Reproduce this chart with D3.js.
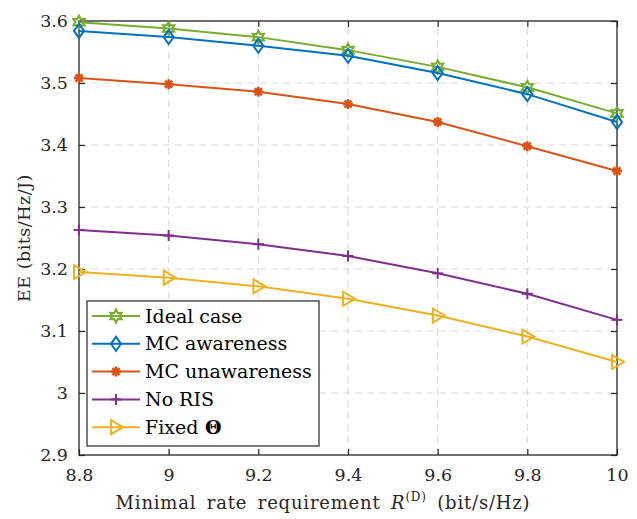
<!DOCTYPE html>
<html lang="en">
<head>
    <meta charset="UTF-8">
    <title>EE vs minimal rate requirement</title>
    <style>
        body { margin: 0; padding: 0; background: #fff; overflow: hidden; }
        svg text { font-family: 'DejaVu Serif', serif; }
    </style>
</head>
<body>
    <script src="https://d3js.org/d3.v7.min.js"></script>
    <script>
        // x values (minimal rate requirement)
        const rates = [8.8, 9, 9.2, 9.4, 9.6, 9.8, 10];

        // EE values
        const idealCase = [3.598, 3.588, 3.574, 3.553, 3.526, 3.493, 3.451];
        const mcAware = [3.584, 3.574, 3.560, 3.544, 3.516, 3.482, 3.437];
        const mcUnaware = [3.508, 3.498, 3.486, 3.466, 3.437, 3.398, 3.358];
        const noRIS = [3.263, 3.254, 3.240, 3.221, 3.193, 3.160, 3.118];
        const fixedTheta = [3.195, 3.186, 3.172, 3.152, 3.125, 3.091, 3.050];

        const xTicks = [8.8, 9, 9.2, 9.4, 9.6, 9.8, 10];
        const yTicks = [2.9, 3, 3.1, 3.2, 3.3, 3.4, 3.5, 3.6];

        const series = [
            { name: "Ideal case", values: idealCase, color: "#77AC30", marker: "hexagram" },
            { name: "MC awareness", values: mcAware, color: "#0072BD", marker: "diamond" },
            { name: "MC unawareness", values: mcUnaware, color: "#D95319", marker: "asterisk" },
            { name: "No RIS", values: noRIS, color: "#7E2F8E", marker: "plus" },
            { name: "Fixed", values: fixedTheta, color: "#EDB120", marker: "triangle" }
        ];

        const width = 637, height = 519;
        const margin = { left: 79, right: 20, top: 21, bottom: 64 };
        const serif = "DejaVu Serif";

        const svg = d3.select("body").append("svg")
            .attr("width", width)
            .attr("height", height);

        const x = d3.scaleLinear().domain([8.8, 10]).range([margin.left, width - margin.right]);
        const y = d3.scaleLinear().domain([2.9, 3.6]).range([height - margin.bottom, margin.top]);

        const axisColor = "#262626";

        // grid
        const grid = svg.append("g");
        grid.selectAll(".gx").data(xTicks.slice(1, -1)).enter().append("line")
            .attr("x1", d => x(d)).attr("x2", d => x(d))
            .attr("y1", y(2.9)).attr("y2", y(3.6))
            .attr("stroke", "#dcdcdc").attr("stroke-width", 1.2).attr("stroke-dasharray", "7,5");
        grid.selectAll(".gy").data(yTicks.slice(1, -1)).enter().append("line")
            .attr("x1", x(8.8)).attr("x2", x(10))
            .attr("y1", d => y(d)).attr("y2", d => y(d))
            .attr("stroke", "#dcdcdc").attr("stroke-width", 1.2).attr("stroke-dasharray", "7,5");

        // axes (ticks inside, mirrored on top/right)
        const tickLen = 6;
        const fmt = d => String(+d.toFixed(1));
        svg.append("g").attr("transform", `translate(0,${y(2.9)})`)
            .call(d3.axisBottom(x).tickValues(xTicks).tickSizeInner(-tickLen).tickSizeOuter(0).tickPadding(14).tickFormat(fmt))
            .call(g => g.select(".domain").remove());
        svg.append("g").attr("transform", `translate(0,${y(3.6)})`)
            .call(d3.axisTop(x).tickValues(xTicks).tickSizeInner(-tickLen).tickSizeOuter(0).tickFormat(""))
            .call(g => g.select(".domain").remove());
        svg.append("g").attr("transform", `translate(${x(8.8)},0)`)
            .call(d3.axisLeft(y).tickValues(yTicks).tickSizeInner(-tickLen).tickSizeOuter(0).tickPadding(11).tickFormat(fmt))
            .call(g => g.select(".domain").remove());
        svg.append("g").attr("transform", `translate(${x(10)},0)`)
            .call(d3.axisRight(y).tickValues(yTicks).tickSizeInner(-tickLen).tickSizeOuter(0).tickFormat(""))
            .call(g => g.select(".domain").remove());
        svg.selectAll("g").attr("font-family", serif);
        svg.selectAll(".tick line").attr("stroke", axisColor).attr("stroke-width", 1.2);
        svg.selectAll(".tick text").attr("fill", axisColor).attr("font-size", 17.5);

        svg.append("rect")
            .attr("x", x(8.8)).attr("y", y(3.6))
            .attr("width", x(10) - x(8.8)).attr("height", y(2.9) - y(3.6))
            .attr("fill", "none").attr("stroke", axisColor).attr("stroke-width", 1.3);

        // marker drawing
        function drawMarker(g, type, color, cx, cy) {
            if (type === "hexagram") {
                const pts = [];
                for (let i = 0; i < 12; i++) {
                    const a = -Math.PI / 2 + i * Math.PI / 6;
                    const r = i % 2 === 0 ? 6.5 : 3.6;
                    pts.push([cx + r * Math.cos(a), cy + r * Math.sin(a)]);
                }
                g.append("polygon").attr("points", pts.map(p => p.join(",")).join(" "))
                    .attr("fill", "none").attr("stroke", color).attr("stroke-width", 2);
            } else if (type === "diamond") {
                const r = 7;
                g.append("polygon")
                    .attr("points", [[cx, cy - r], [cx + r * 0.72, cy], [cx, cy + r], [cx - r * 0.72, cy]].map(p => p.join(",")).join(" "))
                    .attr("fill", "none").attr("stroke", color).attr("stroke-width", 2);
            } else if (type === "asterisk") {
                const r = 5;
                for (let i = 0; i < 4; i++) {
                    const a = i * Math.PI / 4;
                    g.append("line")
                        .attr("x1", cx - r * Math.cos(a)).attr("y1", cy - r * Math.sin(a))
                        .attr("x2", cx + r * Math.cos(a)).attr("y2", cy + r * Math.sin(a))
                        .attr("stroke", color).attr("stroke-width", 2.6);
                }
            } else if (type === "plus") {
                const r = 5.5;
                g.append("line").attr("x1", cx - r).attr("x2", cx + r).attr("y1", cy).attr("y2", cy)
                    .attr("stroke", color).attr("stroke-width", 2);
                g.append("line").attr("x1", cx).attr("x2", cx).attr("y1", cy - r).attr("y2", cy + r)
                    .attr("stroke", color).attr("stroke-width", 2);
            } else if (type === "triangle") {
                const r = 7;
                g.append("polygon")
                    .attr("points", [[cx - r * 0.7, cy - r], [cx + r, cy], [cx - r * 0.7, cy + r]].map(p => p.join(",")).join(" "))
                    .attr("fill", "none").attr("stroke", color).attr("stroke-width", 2);
            }
        }

        const line = d3.line().x((d, i) => x(rates[i])).y(d => y(d));

        series.forEach(s => {
            svg.append("path")
                .attr("d", line(s.values))
                .attr("fill", "none")
                .attr("stroke", s.color)
                .attr("stroke-width", 2);
            const mg = svg.append("g");
            s.values.forEach((v, i) => drawMarker(mg, s.marker, s.color, x(rates[i]), y(v)));
        });

        // legend
        const lg = svg.append("g").attr("font-family", serif);
        lg.append("rect")
            .attr("x", 87).attr("y", 301).attr("width", 232).attr("height", 145)
            .attr("fill", "#fff").attr("stroke", axisColor).attr("stroke-width", 1.2);
        series.forEach((s, i) => {
            const ly = 316 + i * 27.8;
            lg.append("line").attr("x1", 92).attr("x2", 140).attr("y1", ly).attr("y2", ly)
                .attr("stroke", s.color).attr("stroke-width", 2);
            drawMarker(lg, s.marker, s.color, 116, ly);
            const t = lg.append("text").attr("x", 145).attr("y", ly + 6.5)
                .attr("font-size", 19).attr("fill", "#000").text(s.name);
            if (s.marker === "triangle") {
                t.append("tspan").attr("font-weight", "bold").text(" \u0398");
            }
        });

        // axis labels
        const xl = svg.append("text")
            .attr("font-family", serif)
            .attr("x", 323).attr("y", 509)
            .attr("letter-spacing", 0.8).attr("word-spacing", 4)
            .attr("text-anchor", "middle").attr("font-size", 18).attr("fill", axisColor);
        xl.append("tspan").text("Minimal rate requirement ");
        xl.append("tspan").attr("font-style", "italic").text("R");
        xl.append("tspan").attr("font-size", 12).attr("dy", -8).text("(D)");
        xl.append("tspan").attr("dy", 8).text(" (bit/s/Hz)");

        svg.append("text")
            .attr("font-family", serif)
            .attr("transform", `translate(30,${(y(2.9) + y(3.6)) / 2}) rotate(-90)`)
            .attr("letter-spacing", 0.5)
            .attr("text-anchor", "middle").attr("font-size", 17.5).attr("fill", axisColor)
            .text("EE (bits/Hz/J)");
    </script>
</body>
</html>
